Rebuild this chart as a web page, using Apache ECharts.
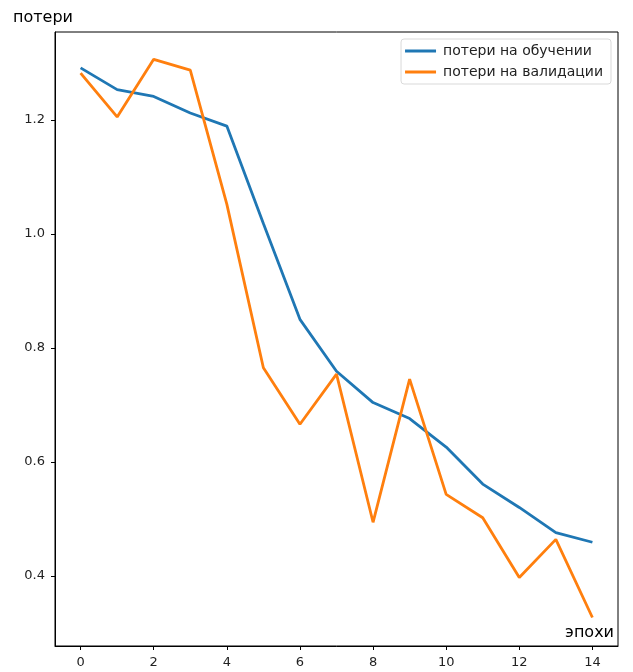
<!DOCTYPE html>
<html><head><meta charset="utf-8">
<script src="https://cdn.jsdelivr.net/npm/echarts@6/dist/echarts.min.js"></script>
<style>html,body{margin:0;padding:0;background:#fff}#c{width:633px;height:672px}</style>
</head><body><div id="c"></div>
<script>
const epochs = [0,1,2,3,4,5,6,7,8,9,10,11,12,13,14];
const trainLoss = [1.291,1.253,1.241,1.212,1.189,1.018,0.850,0.759,0.704,0.676,0.626,0.561,0.520,0.476,0.459];
const valLoss = [1.282,1.205,1.306,1.287,1.052,0.765,0.666,0.754,0.494,0.745,0.543,0.502,0.397,0.464,0.327];
const xTicks = [0,2,4,6,8,10,12,14];
const yTicks = [0.4,0.6,0.8,1.0,1.2];
const seriesNames = ['потери на обучении','потери на валидации'];
const yTitle = 'потери';
const xTitle = 'эпохи';

const font = 'DejaVu Sans';
const chart = echarts.init(document.getElementById('c'));
chart.setOption({
  animation: false,
  grid: {left: 55, top: 32, right: 15, bottom: 26, show: true, borderColor: '#000', borderWidth: 1},
  legend: {
    top: 39, right: 22, orient: 'vertical', itemGap: 7,
    padding: [5, 8, 5, 4],
    borderColor: '#d9d9d9', borderWidth: 1, borderRadius: 3,
    backgroundColor: 'rgba(255,255,255,0.8)',
    icon: 'rect', itemWidth: 31, itemHeight: 3,
    textStyle: {fontFamily: font, fontSize: 14, color: '#222', padding: [0,0,0,2]},
    data: seriesNames
  },
  xAxis: {
    type: 'value', min: -0.7, max: 14.7,
    axisLine: {show: true, onZero: false, lineStyle: {color: '#000'}},
    splitLine: {show: false},
    axisTick: {show: true, length: 4, customValues: xTicks, lineStyle: {color: '#000'}},
    axisLabel: {customValues: xTicks, fontFamily: font, fontSize: 13, color: '#222', margin: 10}
  },
  yAxis: {
    type: 'value', min: 0.277, max: 1.354,
    axisLine: {show: true, onZero: false, lineStyle: {color: '#000'}},
    splitLine: {show: false},
    axisTick: {show: true, length: 4, customValues: yTicks, lineStyle: {color: '#000'}},
    axisLabel: {customValues: yTicks, fontFamily: font, fontSize: 13, color: '#222', margin: 10,
      formatter: v => v.toFixed(1)}
  },
  graphic: [
    {type: 'text', left: 13, top: 10, style: {text: yTitle, font: '16px "DejaVu Sans"', fill: '#000'}},
    {type: 'text', right: 19, top: 625, style: {text: xTitle, font: '16px "DejaVu Sans"', fill: '#000'}}
  ],
  series: [
    {name: seriesNames[0], type: 'line', showSymbol: false, data: epochs.map((e,i)=>[e, trainLoss[i]]),
     lineStyle: {color: '#1f77b4', width: 2.8}, itemStyle: {color: '#1f77b4'}},
    {name: seriesNames[1], type: 'line', showSymbol: false, data: epochs.map((e,i)=>[e, valLoss[i]]),
     lineStyle: {color: '#ff7f0e', width: 2.8}, itemStyle: {color: '#ff7f0e'}}
  ]
});
</script></body></html>
